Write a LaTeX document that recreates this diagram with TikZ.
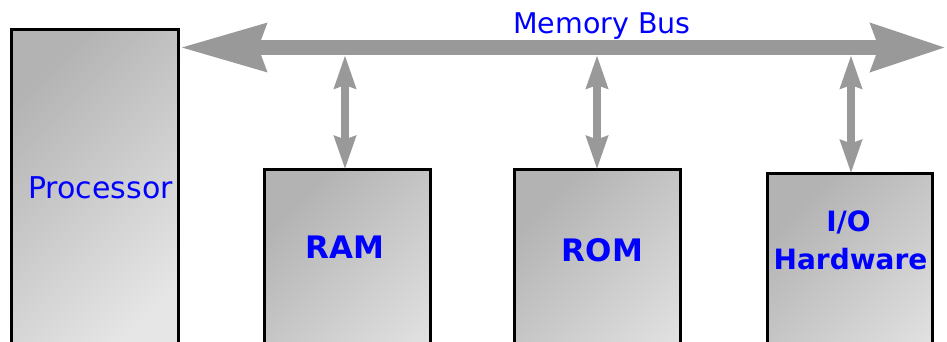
\documentclass[tikz,border=0pt]{standalone}
\usepackage{fontspec}
\setmainfont{DejaVu Sans}
\usetikzlibrary{arrows.meta}
\definecolor{busgray}{HTML}{999999}
\definecolor{txtblue}{HTML}{0000FF}
\definecolor{boxdark}{HTML}{B3B3B3}
\definecolor{boxlight}{HTML}{E6E6E6}
\begin{document}
\begin{tikzpicture}[x=1pt,y=-1pt,
  unitbox/.style={draw=black, line width=3pt, top color=boxdark, bottom color=boxlight,
    shading angle=45, minimum width=166pt, minimum height=260pt, inner sep=0pt,
    outer sep=0pt, anchor=north west},
  bigbox/.style={unitbox, minimum width=167pt, minimum height=330pt},
  plainlbl/.style={text=txtblue, inner sep=0pt, anchor=base},
  boldlbl/.style={text=txtblue, inner sep=0pt, anchor=base, font=\bfseries},
  bus/.style={draw=busgray, line width=15pt,
    {Stealth[length=85pt,width=46pt,inset=7pt]}-{Stealth[length=74pt,width=46pt,inset=7pt]}},
  vlink/.style={draw=busgray, line width=8pt,
    {Stealth[length=33pt,width=21pt,inset=3pt]}-{Stealth[length=33pt,width=21pt,inset=3pt]}},
]
\clip (0,0) rectangle (947,341);
\fill[white] (0,0) rectangle (947,341);
% boxes
\node[bigbox] (proc) at (11.5,29.5) {};
\node[unitbox] (ram) at (264.5,169.5) {};
\node[unitbox] (rom) at (514.5,169.5) {};
\node[unitbox, minimum width=165pt] (io) at (767.5,173.5) {};
% labels
\node[plainlbl, font=\fontsize{30}{36}\selectfont] (proclbl) at (100.5,198) {Processor};
\node[plainlbl, font=\fontsize{28.5}{34}\selectfont] (buslbl) at (602,33) {Memory Bus};
\node[boldlbl, font=\fontsize{31}{36}\selectfont\bfseries] (ramlbl) at (345,258) {RAM};
\node[boldlbl, font=\fontsize{31}{36}\selectfont\bfseries] (romlbl) at (602.5,261) {ROM};
\node[boldlbl, font=\fontsize{28}{34}\selectfont\bfseries] (iolbl) at (848.5,231) {I/O};
\node[boldlbl, font=\fontsize{28}{34}\selectfont\bfseries] (hwlbl) at (850.5,269) {Hardware};
% bus
\coordinate (busL) at (180,47.5);
\coordinate (busR) at (946,47.5);
\draw[bus] (busL) -- (busR);
\coordinate (tapram) at (345,55);
\coordinate (taprom) at (597,55);
\coordinate (tapio) at (851,55);
\draw[vlink] (tapram) -- (ram.north -| tapram);
\draw[vlink] (taprom) -- (rom.north -| taprom);
\draw[vlink] (tapio) -- (io.north -| tapio);
\end{tikzpicture}
\end{document}
